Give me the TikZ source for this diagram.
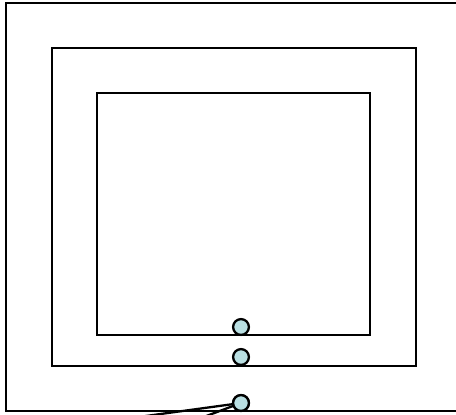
\documentclass[tikz,border=0pt]{standalone}
\usepackage{tikz}
\usetikzlibrary{positioning}
\definecolor{bead}{HTML}{B9DFE2}
\tikzset{
  frame/.style={draw=black, line width=1.4pt},
  beadnode/.style={circle, draw=black, fill=bead, line width=1.3pt,
    minimum size=9pt, inner sep=0pt},
  tether/.style={draw=black, line width=1.3pt},
}
\begin{document}
\begin{tikzpicture}[x=0.02cm, y=-0.02cm]
\useasboundingbox (0,0) rectangle (456,414);
\clip (0,0) rectangle (456,414);

% frames
\draw[frame] (6,3) rectangle (470,411);
\draw[frame] (52,48) rectangle (416,366);
\draw[frame] (97,93) rectangle (370,335);

% beads
\node[beadnode] (bead-top) at (241,327) {};
\node[beadnode] (bead-mid) at (241,357) {};
\node[beadnode] (bead-low) at (241,403) {};

% tethers
\coordinate (end-a) at (80,425);
\coordinate (end-b) at (185,424);
\draw[tether] (bead-low.center) -- (end-a);
\draw[tether] (bead-low.center) -- (end-b);
\node[beadnode] at (bead-low) {};

\end{tikzpicture}
\end{document}
